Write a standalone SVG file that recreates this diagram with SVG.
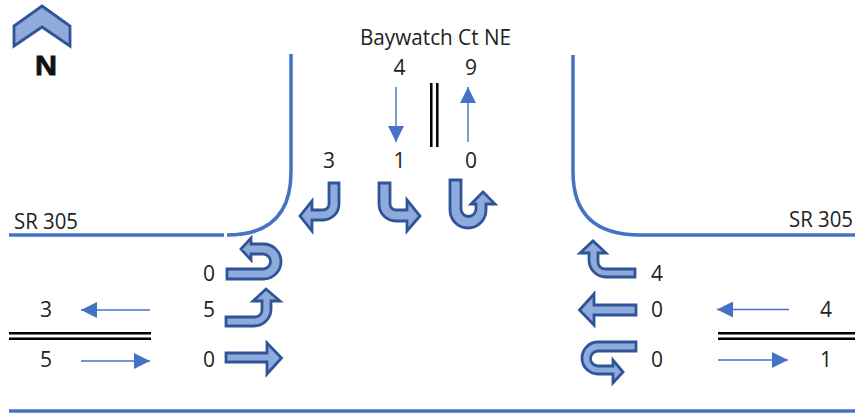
<svg xmlns="http://www.w3.org/2000/svg" width="855" height="414" viewBox="0 0 855 414">
<style>
.t{font-family:"Open Sans","Noto Sans",sans-serif;font-size:21px;fill:#222}
.m{text-anchor:middle}
.a{fill:#8faadc;stroke:#2f5597;stroke-width:2.8;stroke-linejoin:miter}
.c{fill:none;stroke:#4472c4;stroke-width:3.5}
.d{fill:none;stroke:#000;stroke-width:2.5}
.s{fill:none;stroke:#4472c4;stroke-width:1.4;marker-end:url(#h)}
</style>
<defs><marker id="h" markerUnits="userSpaceOnUse" markerWidth="16" markerHeight="16" refX="16" refY="8" orient="auto"><path d="M0,0 L16,8 L0,16 Z" fill="#4472c4"/></marker></defs>
<rect width="855" height="414" fill="#fff"/>
<g id="north"><path class="a" d="M42,6 L70,26 V46 L42,27 L14,46 V26 Z"/><text x="46" y="75" text-anchor="middle" textLength="22" lengthAdjust="spacingAndGlyphs" style="font-family:'Liberation Sans',sans-serif;font-size:28px;font-weight:bold;fill:#111" stroke="#111" stroke-width="0.8">N</text></g>
<g id="curbs">
<path class="c" d="M291,54 V172 Q291,235 227,235"/>
<path class="c" d="M224,235 H9"/>
<path class="c" d="M573,55 V172 Q573,235 640,235 H855"/>
<path class="c" d="M9,411 H855"/>
</g>
<g id="connectors">
<path class="d" d="M431.3,83 V147 M437.3,83 V147 M9,333.3 H151 M9,338.7 H151 M718,333.3 H855 M718,338.7 H855"/>
<path class="s" d="M396,87 V142"/>
<path class="s" d="M468,142 V87"/>
<path class="s" d="M150,310 H81"/>
<path class="s" d="M81,361 H150"/>
<path class="s" d="M789,309.5 H717"/>
<path class="s" d="M718,360 H788"/>
</g>
<g id="sb-right"><path class="a" d="M329,183 H339 V204 A16,16 0 0 1 323,220 H312 V231 L300,216 L312,201 V210 H323 A6,6 0 0 0 329,204 Z"/></g>
<g id="sb-left"><path class="a" d="M379,183 H390 V204 A6,6 0 0 0 396,210 H407 V200 L420,216 L407,231 V221 H396 A17,17 0 0 1 379,204 Z"/></g>
<g id="sb-uturn"><path class="a" d="M450,180 H461 V209 A7.5,7.5 0 0 0 476,209 V204 H471 L483,192 L495,204 H486 V210 A18,18 0 0 1 450,210 Z"/></g>
<g id="eb-uturn"><path class="a" d="M227,269 H263 A7.5,7.5 0 0 0 263,254 H251 V260 L241,249 L251,238 V244 H263.5 A17.5,17.5 0 0 1 263.5,279 H227 Z"/></g>
<g id="eb-left"><path class="a" d="M226,317 H255 A7,7 0 0 0 262,310 V301 H253 L266,289 L280,301 H271 V309 A17,17 0 0 1 254,326 H226 Z"/></g>
<g id="eb-through"><path class="a" d="M226,353 H267 V343 L281.5,358 L267,374 V362 H226 Z"/></g>
<g id="wb-right"><path class="a" d="M635,269 H605 A7,7 0 0 1 598,262 V253 H606 L593,241 L580,253 H589 V260 A17,17 0 0 0 606,277 H635 Z"/></g>
<g id="wb-through"><path class="a" d="M636,305 H594 V294 L579.5,310 L594,325 V315 H636 Z"/></g>
<g id="wb-uturn"><path class="a" d="M636,342 H598 A16,16 0 0 0 598,374 H613 V383 L623,372 L613,360 V366 H598 A7.5,7.5 0 0 1 598,351 H636 Z"/></g>
<g id="labels">
<text class="t m" x="435.5" y="45" textLength="151" lengthAdjust="spacingAndGlyphs">Baywatch Ct NE</text>
<text class="t m" x="399.5" y="75">4</text>
<text class="t m" x="471" y="75">9</text>
<text class="t m" x="329" y="168">3</text>
<text class="t m" x="399.5" y="168">1</text>
<text class="t m" x="471" y="168">0</text>
<text class="t" x="14" y="229" textLength="64" lengthAdjust="spacingAndGlyphs">SR 305</text>
<text class="t" x="789" y="227" textLength="64" lengthAdjust="spacingAndGlyphs">SR 305</text>
<text class="t m" x="209" y="281">0</text>
<text class="t m" x="209" y="317">5</text>
<text class="t m" x="209" y="367">0</text>
<text class="t m" x="46" y="317">3</text>
<text class="t m" x="46" y="367">5</text>
<text class="t m" x="657" y="281">4</text>
<text class="t m" x="657" y="317">0</text>
<text class="t m" x="657" y="367">0</text>
<text class="t m" x="826" y="317">4</text>
<text class="t m" x="826" y="367">1</text>
</g>
</svg>
